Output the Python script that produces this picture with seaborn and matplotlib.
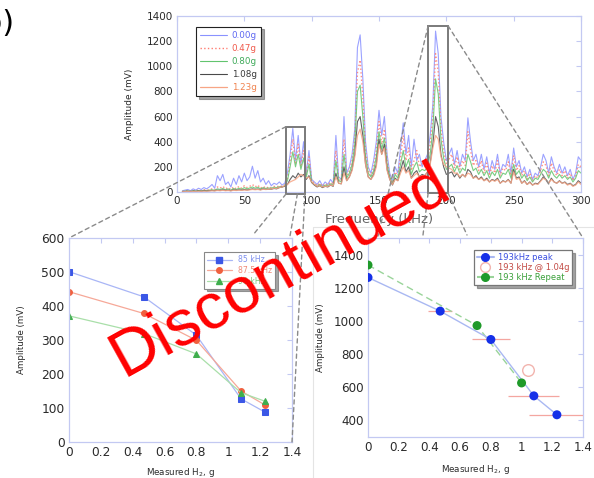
import numpy as np
import pandas as pd
import seaborn as sns
import matplotlib
matplotlib.use("Agg")
import matplotlib.pyplot as plt
from matplotlib.lines import Line2D
from matplotlib.patches import Rectangle, ConnectionPatch
from matplotlib.ticker import FuncFormatter, MultipleLocator

# ---------------- spectrum data (amplitude in mV, 2 kHz grid 4..300 kHz) ----------------
freq_khz = np.arange(4, 301, 2)

amp_000g = [10, 15, 20, 10, 25, 15, 30, 20, 35, 25,
            40, 60, 30, 130, 90, 140, 60, 80, 40, 110,
            60, 130, 80, 150, 90, 120, 205, 110, 170, 80,
            110, 60, 90, 50, 70, 60, 80, 55, 70, 150,
            300, 505, 250, 450, 220, 400, 150, 330, 100, 80,
            60, 90, 50, 80, 60, 100, 70, 450, 120, 100,
            600, 150, 200, 300, 500, 1150, 1250, 900, 400, 200,
            150, 250, 400, 650, 450, 600, 300, 150, 80, 200,
            150, 350, 550, 300, 450, 200, 420, 250, 300, 200,
            250, 300, 450, 700, 1280, 1100, 600, 400, 250, 300,
            350, 220, 330, 200, 300, 250, 590, 400, 250, 300,
            200, 300, 180, 280, 150, 250, 180, 300, 150, 220,
            200, 300, 150, 350, 200, 250, 150, 200, 120, 180,
            100, 150, 130, 200, 300, 250, 150, 280, 200, 150,
            220, 150, 200, 130, 180, 100, 150, 280, 250]

amp_047g = [5, 8, 10, 6, 12, 8, 15, 10, 18, 12,
            20, 25, 18, 40, 30, 45, 25, 35, 20, 40,
            25, 45, 30, 50, 35, 45, 60, 40, 55, 30,
            45, 30, 40, 35, 45, 40, 50, 45, 55, 100,
            250, 420, 220, 380, 200, 330, 130, 280, 90, 70,
            50, 70, 45, 65, 55, 80, 60, 330, 100, 90,
            420, 130, 170, 250, 420, 950, 1050, 750, 330, 170,
            130, 200, 330, 560, 380, 500, 250, 130, 70, 160,
            130, 280, 450, 250, 350, 170, 250, 330, 200, 230,
            200, 250, 380, 600, 1100, 950, 500, 330, 220, 260,
            300, 190, 280, 180, 250, 210, 480, 330, 210, 250,
            170, 250, 150, 230, 130, 210, 150, 250, 130, 190,
            170, 240, 130, 290, 170, 210, 130, 170, 100, 150,
            90, 130, 110, 170, 240, 210, 130, 230, 170, 130,
            180, 130, 170, 110, 150, 90, 130, 220, 200]

amp_080g = [5, 6, 8, 5, 10, 7, 12, 8, 14, 10,
            15, 18, 14, 25, 20, 28, 18, 25, 15, 28,
            20, 30, 22, 35, 25, 32, 40, 30, 38, 25,
            35, 28, 32, 30, 38, 35, 42, 40, 50, 90,
            200, 320, 200, 300, 180, 270, 120, 220, 80, 60,
            45, 60, 40, 55, 50, 65, 55, 250, 90, 80,
            300, 110, 150, 220, 380, 800, 850, 600, 280, 150,
            120, 170, 280, 480, 340, 430, 220, 120, 65, 140,
            110, 220, 330, 200, 260, 140, 200, 240, 160, 180,
            170, 200, 300, 500, 900, 780, 420, 270, 180, 200,
            220, 160, 210, 150, 190, 170, 300, 240, 170, 190,
            140, 180, 130, 170, 110, 160, 130, 180, 110, 150,
            140, 180, 110, 220, 140, 170, 110, 140, 90, 120,
            80, 110, 100, 140, 180, 160, 110, 170, 130, 110,
            140, 110, 130, 100, 120, 80, 110, 170, 150]

amp_108g = [3, 5, 6, 4, 8, 5, 9, 6, 10, 8,
            10, 12, 10, 15, 12, 18, 12, 15, 10, 18,
            14, 18, 15, 20, 16, 20, 25, 20, 24, 18,
            25, 20, 22, 22, 28, 25, 35, 40, 45, 60,
            100, 130, 110, 150, 120, 140, 100, 130, 75, 55,
            40, 50, 35, 45, 40, 55, 45, 150, 70, 65,
            200, 90, 120, 180, 300, 560, 600, 450, 220, 120,
            100, 140, 220, 420, 300, 380, 180, 100, 55, 110,
            90, 170, 250, 160, 200, 110, 150, 170, 120, 140,
            130, 160, 230, 380, 600, 520, 300, 200, 140, 150,
            160, 120, 150, 110, 140, 120, 180, 160, 110, 130,
            100, 120, 90, 110, 80, 100, 90, 110, 70, 90,
            80, 100, 70, 180, 110, 120, 70, 90, 60, 80,
            55, 70, 65, 90, 120, 100, 70, 110, 80, 70,
            90, 70, 80, 60, 70, 50, 60, 90, 70]

amp_123g = [2, 3, 4, 3, 5, 4, 6, 5, 7, 6,
            8, 10, 9, 12, 10, 14, 10, 12, 9, 14,
            12, 15, 13, 16, 14, 17, 20, 18, 20, 16,
            22, 20, 22, 24, 30, 28, 35, 40, 50, 60,
            80, 90, 100, 120, 140, 130, 110, 120, 80, 60,
            45, 50, 40, 45, 45, 55, 50, 120, 70, 65,
            150, 90, 120, 170, 280, 450, 500, 400, 220, 120,
            100, 130, 200, 380, 300, 350, 170, 100, 60, 100,
            90, 150, 200, 150, 170, 110, 130, 150, 120, 130,
            130, 160, 220, 350, 450, 420, 280, 220, 200, 190,
            180, 150, 150, 120, 140, 120, 150, 140, 110, 120,
            100, 110, 90, 100, 80, 95, 85, 100, 70, 85,
            80, 95, 70, 160, 100, 110, 70, 85, 60, 75,
            55, 65, 60, 85, 110, 95, 70, 100, 80, 70,
            85, 70, 75, 55, 65, 45, 55, 80, 60]

spectrum_labels = ["0.00g", "0.47g", "0.80g", "1.08g", "1.23g"]

# ---------------- peak amplitude vs measured H2 ----------------
h2_g = [0.0, 0.47, 0.80, 1.08, 1.23]
peak_85khz = [501, 427, 314, 127, 88]
peak_87khz = [442, 378, 299, 150, 109]
peak_90khz = [371, 319, 259, 145, 120]
low_labels = ["85 kHz", "87.5 kHz", "90 kHz"]

peak_193khz = [1262, 1059, 888, 548, 434]
h2_err_g = [0.0, 0.077, 0.125, 0.166, 0.18]
repeat_h2_g = [0.0, 0.71, 1.00]
repeat_193khz = [1337, 972, 626]
single_h2_g = [1.04]
single_193khz = [702]
high_labels = ["193kHz peak", "193 kHz @ 1.04g", "193 kHz Repeat"]

# ---------------- styling ----------------
sns.set_theme(style="white")
plt.rcParams["font.family"] = ["DejaVu Sans"]
SPINE = "#c3c9f2"
TXT = "#2a2a2a"

fig = plt.figure(figsize=(5.94, 4.78), dpi=100)
W, H = 594, 478


def px_axes(l, t, r, b):
    return fig.add_axes([l / W, 1 - b / H, (r - l) / W, (b - t) / H])


def style_axes(ax, size):
    for s in ax.spines.values():
        s.set_color(SPINE)
        s.set_linewidth(0.9)
    ax.tick_params(direction="in", top=True, right=True, length=3.5,
                   width=0.8, color=SPINE, labelsize=size, labelcolor=TXT,
                   pad=3)
    ax.set_facecolor("white")


ax_top = px_axes(177, 16, 581, 192)
ax_bl = px_axes(69, 238, 292, 442)
ax_br = px_axes(368, 238, 583, 437)

# ---------------- top: spectra ----------------
spec = pd.DataFrame({"f": freq_khz, "a0": amp_000g, "a1": amp_047g,
                     "a2": amp_080g, "a3": amp_108g, "a4": amp_123g})
spec_styles = [("a0", "#8a92ff", "-", 0.8),
               ("a1", "#ff7b70", ":", 1.0),
               ("a2", "#62c46e", "-", 0.8),
               ("a3", "#4a4a4a", "-", 0.8),
               ("a4", "#f7a585", "-", 0.9)]
text_cols = ["#5e68f2", "#f05a4c", "#3faa5a", "#3a3a3a", "#f0834f"]
handles = []
for (col, c, ls, lw), lab in zip(spec_styles, spectrum_labels):
    sns.lineplot(data=spec, x="f", y=col, ax=ax_top, color=c, linestyle=ls,
                 linewidth=lw, alpha=0.85)
    handles.append(Line2D([], [], color=c, linestyle=ls, linewidth=lw))

ax_top.set_xlim(0, 300)
ax_top.set_ylim(0, 1400)
ax_top.xaxis.set_major_locator(MultipleLocator(50))
ax_top.yaxis.set_major_locator(MultipleLocator(200))
style_axes(ax_top, 7.5)
ax_top.set_xlabel("Frequency (kHz)", fontsize=9.5, color="#666666", labelpad=5)
ax_top.set_ylabel("Amplitude (mV)", fontsize=6.5, color=TXT, labelpad=9)
leg = ax_top.legend(handles, spectrum_labels, loc="upper left",
                    bbox_to_anchor=(0.047, 0.94), borderaxespad=0,
                    fontsize=6.3, frameon=True, fancybox=False, shadow=True,
                    handlelength=3.0, labelspacing=0.45, borderpad=0.5,
                    handletextpad=0.6)
leg.get_frame().set_edgecolor("#222222")
leg.get_frame().set_linewidth(0.8)
for t, c in zip(leg.get_texts(), text_cols):
    t.set_color(c)

# zoom boxes on the spectrum
box1 = (81, -15, 14, 535)
box2 = (186.5, -8, 14.8, 1330)
for (x0, y0, w, h) in (box1, box2):
    ax_top.add_patch(Rectangle((x0, y0), w, h, fill=False, edgecolor="#7a7a7a",
                               linewidth=1.4, clip_on=False, zorder=5))

# ---------------- bottom left: 85/87.5/90 kHz peaks ----------------
low = pd.DataFrame({"h2": h2_g, "p85": peak_85khz, "p87": peak_87khz,
                    "p90": peak_90khz})
low_styles = [("p85", "#a9b6f6", "#3b57e6", "s"),
              ("p87", "#f6a898", "#f0603f", "o"),
              ("p90", "#a9dfa9", "#3fae4d", "^")]
low_handles = []
for col, lc, mc, mk in low_styles:
    sns.lineplot(data=low, x="h2", y=col, ax=ax_bl, color=lc, linewidth=0.9,
                 marker=mk, markersize=4.2, markerfacecolor=mc,
                 markeredgecolor=mc)
    low_handles.append(Line2D([], [], color=lc, linewidth=0.9, marker=mk,
                              markersize=4, markerfacecolor=mc,
                              markeredgecolor=mc))
ax_bl.set_xlim(0, 1.4)
ax_bl.set_ylim(0, 600)
ax_bl.xaxis.set_major_locator(MultipleLocator(0.2))
ax_bl.yaxis.set_major_locator(MultipleLocator(100))
ax_bl.xaxis.set_major_formatter(FuncFormatter(lambda v, p: f"{v:g}"))
style_axes(ax_bl, 8.8)
ax_bl.set_xlabel("Measured H$_2$, g", fontsize=6.3, color=TXT, labelpad=5)
ax_bl.set_ylabel("Amplitude (mV)", fontsize=6.3, color=TXT, labelpad=11)
leg2 = ax_bl.legend(low_handles, low_labels, loc="upper right",
                    bbox_to_anchor=(0.925, 0.93), borderaxespad=0,
                    fontsize=5.6, frameon=True, fancybox=False, shadow=True,
                    handlelength=3.2, labelspacing=0.2, borderpad=0.4)
leg2.get_frame().set_edgecolor("#888888")
leg2.get_frame().set_linewidth(0.8)
for t, c in zip(leg2.get_texts(), ["#7f90ee", "#f08a78", "#7cc77c"]):
    t.set_color(c)

# ---------------- bottom right: 193 kHz peak ----------------
high = pd.DataFrame({"h2": h2_g, "p193": peak_193khz, "err": h2_err_g})
rep = pd.DataFrame({"h2": repeat_h2_g, "p193": repeat_193khz})
ax_br.errorbar(high["h2"], high["p193"], xerr=high["err"], fmt="none",
               ecolor="#f4a6a0", elinewidth=0.9, capsize=0, zorder=2)
sns.lineplot(data=rep, x="h2", y="p193", ax=ax_br, color="#9ad49a",
             linewidth=1.0, linestyle=(0, (5, 3)), zorder=3)
sns.lineplot(data=high, x="h2", y="p193", ax=ax_br, color="#a9b8f2",
             linewidth=1.0, zorder=3)
sns.scatterplot(data=rep, x="h2", y="p193", ax=ax_br, color="#1f9a2a",
                s=42, edgecolor="none", zorder=4)
sns.scatterplot(data=high, x="h2", y="p193", ax=ax_br, color="#1530e8",
                s=42, edgecolor="none", zorder=4)
ax_br.scatter(single_h2_g, single_193khz, s=70, facecolors="white",
              edgecolors="#f2b4ae", linewidths=1.0, zorder=4)
ax_br.set_xlim(0, 1.4)
ax_br.set_ylim(300, 1500)
ax_br.xaxis.set_major_locator(MultipleLocator(0.2))
ax_br.yaxis.set_major_locator(MultipleLocator(200))
ax_br.xaxis.set_major_formatter(FuncFormatter(lambda v, p: f"{v:g}"))
style_axes(ax_br, 8.6)
ax_br.set_xlabel("Measured H$_2$, g", fontsize=6.3, color=TXT, labelpad=6)
ax_br.set_ylabel("Amplitude (mV)", fontsize=6.3, color=TXT, labelpad=6)
high_handles = [
    Line2D([], [], color="#a9b8f2", marker="o", markersize=5.5,
           markerfacecolor="#1530e8", markeredgecolor="#1530e8"),
    Line2D([], [], linestyle="none", marker="o", markersize=7,
           markerfacecolor="white", markeredgecolor="#f2b4ae"),
    Line2D([], [], color="#9ad49a", linestyle=(0, (4, 2)), marker="o",
           markersize=5.5, markerfacecolor="#1f9a2a",
           markeredgecolor="#1f9a2a"),
]
leg3 = ax_br.legend(high_handles, high_labels, loc="upper right",
                    bbox_to_anchor=(0.95, 0.94), borderaxespad=0,
                    fontsize=6.0, frameon=True, fancybox=False, shadow=True,
                    handlelength=2.0, labelspacing=0.15, borderpad=0.35,
                    handletextpad=0.5)
leg3.get_frame().set_edgecolor("#777777")
leg3.get_frame().set_linewidth(0.9)
for t, c in zip(leg3.get_texts(), ["#3a4fe0", "#c24a44", "#3aa03a"]):
    t.set_color(c)

# ---------------- zoom connector lines ----------------
dash = dict(color="#8a8a8a", linewidth=1.0, linestyle=(0, (3, 2.5)), zorder=6)


def connect(xyA, axA, xyB, coordsB):
    con = ConnectionPatch(xyA=xyA, coordsA=axA.transData, xyB=xyB,
                          coordsB=coordsB, **dash)
    fig.add_artist(con)


connect((box1[0], box1[1] + box1[3]), ax_top, (0, 1), ax_bl.transAxes)
connect((box1[0] + box1[2], box1[1]), ax_top, (1, 0), ax_bl.transAxes)
connect((box1[0], box1[1]), ax_top, (253, H - 235), "figure pixels")
connect((box1[0] + box1[2] * 0.6, box1[1]), ax_top, (290, H - 236), "figure pixels")
connect((box2[0], box2[1] + box2[3]), ax_top, (378, H - 236), "figure pixels")
connect((box2[0], box2[1]), ax_top, (423, H - 235), "figure pixels")
connect((box2[0] + box2[2], box2[1]), ax_top, (467, H - 235), "figure pixels")
connect((box2[0] + box2[2], box2[1] + box2[3]), ax_top, (1, 1), ax_br.transAxes)

# faint frame around the right panel
fig.add_artist(Line2D([313 / W, 313 / W], [0, 1 - 227 / H], color="#e4e4e4",
                      linewidth=0.8, transform=fig.transFigure, zorder=0))
fig.add_artist(Line2D([313 / W, 1], [1 - 227 / H, 1 - 227 / H], color="#e4e4e4",
                      linewidth=0.8, transform=fig.transFigure, zorder=0))

# panel tag and overlay stamp
fig.text(14 / W, 1 - 23 / H, "(b)", fontsize=22, color="black",
         ha="right", va="center")
fig.text(280 / W, 1 - 270 / H, "Discontinued", fontsize=47, color="#ff0000",
         rotation=29, ha="center", va="center", family="Liberation Sans",
         zorder=20)

fig.savefig("out.png", dpi=100)
